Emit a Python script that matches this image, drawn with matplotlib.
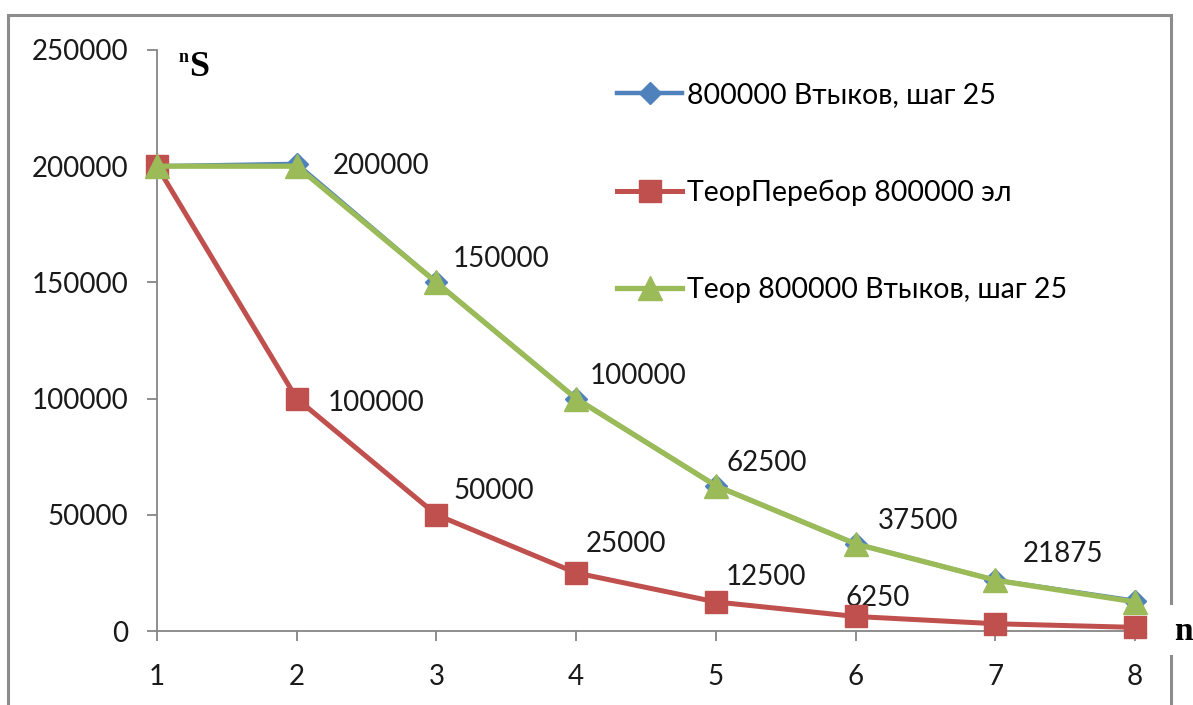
import matplotlib
matplotlib.use("Agg")
import matplotlib.pyplot as plt
from matplotlib.patches import Rectangle

# ---- data ----
n_values = [1, 2, 3, 4, 5, 6, 7, 8]
measured = [200000, 201000, 150000, 100000, 62500, 37500, 21875, 13000]
theor_search = [200000, 100000, 50000, 25000, 12500, 6250, 3125, 1562.5]
theor_insert = [200000, 200000, 150000, 100000, 62500, 37500, 21875, 12500]
series_names = ["800000 Втыков, шаг 25", "ТеорПеребор 800000 эл", "Теор 800000 Втыков, шаг 25"]
y_ticks = [0, 50000, 100000, 150000, 200000, 250000]

# value labels
green_label_n = [2, 3, 4, 5, 6, 7]
green_label_text = ["200000", "150000", "100000", "62500", "37500", "21875"]
red_label_n = [2, 3, 4, 5, 6]
red_label_text = ["100000", "50000", "25000", "12500", "6250"]

# ---- style ----
plt.rcParams['font.family'] = ['Lato', 'DejaVu Sans']
BLUE = "#4F81BD"
RED = "#C0504D"
GREEN = "#9BBB59"
AXC = "#868686"
FS = 20

fig = plt.figure(figsize=(11.93, 7.05), dpi=100)
fig.patch.set_facecolor("white")

# outer frame
fig.add_artist(Rectangle((8 / 1193, -0.05), (1171 - 8) / 1193, 1 - 15 / 705 + 0.05,
                         transform=fig.transFigure, fill=False, edgecolor="#8c8c8c", lw=2.2))
# gap on the right frame edge behind "n"
fig.add_artist(Rectangle((1166 / 1193, 1 - 655 / 705), 10 / 1193, 50 / 705,
                         transform=fig.transFigure, facecolor="white", edgecolor="none"))

ax = fig.add_axes([157 / 1193, 1 - 631 / 705, (1135 - 157) / 1193, (631 - 50) / 705])
ax.set_xlim(1, 8)
ax.set_ylim(0, 250000)

l1, = ax.plot(n_values, measured, color=BLUE, lw=3.2, marker="D", ms=11,
              clip_on=False, zorder=3, label=series_names[0])
l2, = ax.plot(n_values, theor_search, color=RED, lw=3.6, marker="s", ms=16,
              clip_on=False, zorder=4, label=series_names[1])
l3, = ax.plot(n_values, theor_insert, color=GREEN, lw=3.8, marker="^", ms=17,
              clip_on=False, zorder=5, label=series_names[2])

# value labels (offsets in points)
green_offsets = [(26, 0.5), (12, 16.5), (10, 16.5), (8, 16.5), (16, 16.5), (20, 18.5)]
for nn, txt, off in zip(green_label_n, green_label_text, green_offsets):
    ax.annotate(txt, (nn, theor_insert[nn - 1]), xytext=off, textcoords="offset points",
                fontsize=FS, color="#1a1a1a", va="center", ha="left")
red_offsets = [(22, -3.5), (12, 17), (7, 21), (7, 18), (-7, 13)]
for nn, txt, off in zip(red_label_n, red_label_text, red_offsets):
    ax.annotate(txt, (nn, theor_search[nn - 1]), xytext=off, textcoords="offset points",
                fontsize=FS, color="#1a1a1a", va="center", ha="left")

# axes styling
for s in ["top", "right"]:
    ax.spines[s].set_visible(False)
for s in ["left", "bottom"]:
    ax.spines[s].set_color(AXC)
    ax.spines[s].set_linewidth(1.3)
ax.set_yticks(y_ticks)
ax.set_yticklabels([str(v) for v in y_ticks])
ax.set_xticks(n_values)
ax.set_xticklabels([str(v) for v in n_values])
ax.tick_params(axis="both", direction="out", length=7.5, width=1.3, color=AXC,
               labelsize=FS, labelcolor="#1a1a1a")
ax.tick_params(axis="y", pad=13)
ax.tick_params(axis="x", pad=16)

# axis labels
fig.text(179 / 1193, 1 - 58 / 705, "n", fontsize=13, fontweight="bold",
         family="Liberation Serif", ha="left", va="center")
fig.text(189 / 1193, 1 - 67 / 705, "S", fontsize=26, fontweight="bold",
         family="Liberation Serif", ha="left", va="center")
fig.text(1174 / 1193, 1 - 632 / 705, "n", fontsize=24, fontweight="bold",
         family="Liberation Serif", ha="left", va="center")

leg = fig.legend(handles=[l1, l2, l3], loc="upper left",
                 bbox_to_anchor=(617 / 1193, 1 - 82 / 705), frameon=False,
                 fontsize=20.5, handlelength=2.3, handletextpad=0.17,
                 labelspacing=2.5, borderaxespad=0, borderpad=0)

fig.savefig("out.png", dpi=100, facecolor="white")
